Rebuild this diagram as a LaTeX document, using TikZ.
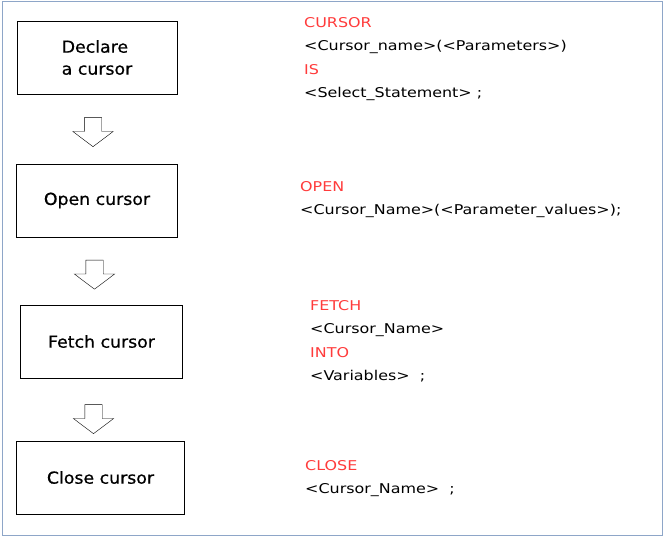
\documentclass[tikz,border=0pt]{standalone}
\usepackage{fontspec}
\usepackage{xcolor}
\usetikzlibrary{shapes,arrows}
\newfontfamily\handfont[FakeStretch=1.18]{DejaVu Sans}
\newfontfamily\boxfont[FakeStretch=1.05, FakeBold=0.6]{DejaVu Sans}
\definecolor{keyred}{HTML}{FF3B3B}
\definecolor{frameblue}{HTML}{8EA6C8}
\tikzstyle{block} = [rectangle, draw, line width=0.8pt, minimum width=160pt,
    minimum height=73pt, font=\boxfont\fontsize{16.5}{22}\selectfont, align=left]
\tikzstyle{downarrow} = [single arrow, draw, rotate=-90, inner xsep=0pt,
    inner ysep=8.5pt, minimum height=29pt, single arrow head extend=11.5pt,
    single arrow tip angle=106]
\tikzstyle{syntax} = [anchor=north west, inner sep=0pt, align=left,
    font=\handfont\fontsize{13.5}{23.5}\selectfont]

\begin{document}
\begin{tikzpicture}[x=1pt, y=-1pt]
      \useasboundingbox (0,0) rectangle (669,538);
      \draw [frameblue, line width=0.8pt] (2,1) rectangle (662,535);

      \node [block] at (97,57.5) (declare) {Declare\\a cursor};
      \node [block, below of=declare, node distance=143pt, minimum width=161pt]
         (open) {Open cursor};
      \node [block, below of=open, node distance=141pt, xshift=4.5pt, minimum width=162pt]
         (fetch) {Fetch cursor};
      \node [block, below of=fetch, node distance=136pt, xshift=-1pt, minimum width=168pt]
         (close) {Close cursor};

      \node [downarrow] at ([xshift=-4pt, yshift=-34.5pt]declare.south) (stepA) {};
      \node [downarrow] at ([xshift=-2.5pt, yshift=-34pt]open.south) (stepB) {};
      \node [downarrow] at ([xshift=-8pt, yshift=-37.5pt]fetch.south) (stepC) {};

      \node [syntax] at (304,17) (declaresyn)
         {\textcolor{keyred}{CURSOR}\\
          <Cursor\_name>(<Parameters>)\\
          \textcolor{keyred}{IS}\\
          <Select\_Statement> ;};
      \node [syntax] at (300,181) (opensyn)
         {\textcolor{keyred}{OPEN}\\
          <Cursor\_Name>(<Parameter\_values>);};
      \node [syntax] at (310,300) (fetchsyn)
         {\textcolor{keyred}{FETCH}\\
          <Cursor\_Name>\\
          \textcolor{keyred}{INTO}\\
          <Variables>~~;};
      \node [syntax] at (305,460) (closesyn)
         {\textcolor{keyred}{CLOSE}\\
          <Cursor\_Name>~~;};
\end{tikzpicture}
\end{document}
